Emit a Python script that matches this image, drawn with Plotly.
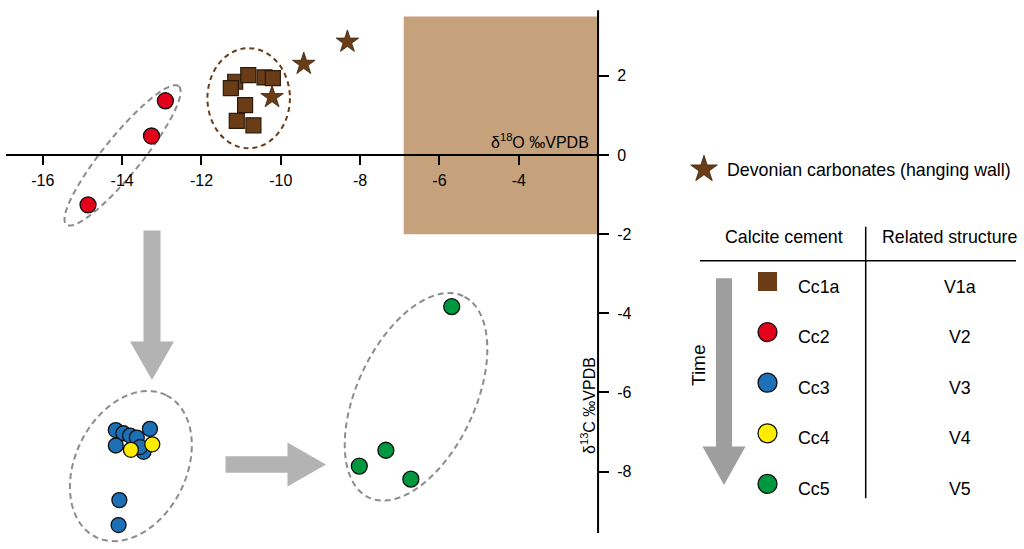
import math
import plotly.graph_objects as go

W, H = 1024, 549

# ---------------- data ----------------
cc1a_x = [-11.15, -10.82, -10.41, -10.20, -11.26, -10.90, -11.11, -10.69]
cc1a_y = [1.85, 2.02, 1.96, 1.94, 1.69, 1.26, 0.86, 0.75]

cc2_x = [-12.91, -13.26, -14.86]
cc2_y = [1.37, 0.48, -1.26]

cc3_x = [-14.16, -13.97, -13.80, -13.63, -13.30, -14.16, -13.46, -13.55, -14.07, -14.09]
cc3_y = [-6.95, -7.03, -7.09, -7.14, -6.92, -7.34, -7.50, -7.38, -8.72, -9.35]

cc4_x = [-13.78, -13.24]
cc4_y = [-7.45, -7.31]

cc5_x = [-5.69, -7.35, -8.02, -6.72]
cc5_y = [-3.83, -7.46, -7.86, -8.19]

dev_x = [-8.32, -9.42, -10.22]
dev_y = [2.86, 2.30, 1.46]

x_tickvals = [-16, -14, -12, -10, -8, -6, -4]
x_ticktext = ["-16", "-14", "-12", "-10", "-8", "-6", "-4"]
y_tickvals = [2, 0, -2, -4, -6, -8]
y_ticktext = ["2", "0", "-2", "-4", "-6", "-8"]

legend_cements = ["Cc1a", "Cc2", "Cc3", "Cc4", "Cc5"]
legend_structures = ["V1a", "V2", "V3", "V4", "V5"]

# field of Devonian marine carbonates
field_x = [-6.9, -2.0]
field_y = [-2.0, 3.5]

# ---------------- styles ----------------
FONT = "Liberation Sans, Arial, sans-serif"
BROWN = "#6B3D16"
RED = "#E2001A"
BLUE = "#1D6FB6"
YELLOW = "#FFED00"
GREEN = "#00983F"
FIELD = "#C5A27C"
ARROW = "#B3B3B3"
ARROW_DARK = "#9E9E9E"
ELL_GREY = "#8C8C8C"

X_RANGE = [-17.08, 8.74]
Y_RANGE = [-9.955, 3.916]
X_CROSS = -2.0   # where the vertical axis crosses
Y_CROSS = 0.0    # where the horizontal axis crosses
X_LINE_END = -16.93
Y_LINE = [-9.55, 3.66]


def px(p):
    return p / W


def py(p):
    return 1 - p / H


def ellipse_path(cx, cy, a, b, ang, n=90):
    t = math.radians(ang)
    pts = []
    for i in range(n):
        s = 2 * math.pi * i / n
        ex, ey = a * math.cos(s), b * math.sin(s)
        pts.append((cx + ex * math.cos(t) - ey * math.sin(t),
                    cy + ex * math.sin(t) + ey * math.cos(t)))
    return "M " + " L ".join(f"{x:.4f},{y:.4f}" for x, y in pts) + " Z"


def arrow_path(x0, y0, x1, y1, sw, hw, hl):
    # pixel geometry -> paper path
    dx, dy = x1 - x0, y1 - y0
    L = math.hypot(dx, dy)
    ux, uy = dx / L, dy / L
    nx, ny = -uy, ux
    bx, by = x1 - ux * hl, y1 - uy * hl
    pts = [
        (x0 + nx * sw / 2, y0 + ny * sw / 2),
        (bx + nx * sw / 2, by + ny * sw / 2),
        (bx + nx * hw / 2, by + ny * hw / 2),
        (x1, y1),
        (bx - nx * hw / 2, by - ny * hw / 2),
        (bx - nx * sw / 2, by - ny * sw / 2),
        (x0 - nx * sw / 2, y0 - ny * sw / 2),
    ]
    return "M " + " L ".join(f"{px(x):.5f},{py(y):.5f}" for x, y in pts) + " Z"


fig = go.Figure()

mk_line = dict(color="#111111", width=1.3)
fig.add_trace(go.Scatter(x=cc1a_x, y=cc1a_y, mode="markers",
                         marker=dict(symbol="square", size=15, color=BROWN,
                                     line=dict(color="#2A1A0A", width=1.2))))
fig.add_trace(go.Scatter(x=dev_x, y=dev_y, mode="markers",
                         marker=dict(symbol="star", size=17, color=BROWN,
                                     line=dict(color="#3A220C", width=0.8))))
fig.add_trace(go.Scatter(x=cc2_x, y=cc2_y, mode="markers",
                         marker=dict(symbol="circle", size=16, color=RED, line=mk_line)))
fig.add_trace(go.Scatter(x=cc3_x, y=cc3_y, mode="markers",
                         marker=dict(symbol="circle", size=15, color=BLUE, line=mk_line)))
fig.add_trace(go.Scatter(x=cc4_x, y=cc4_y, mode="markers",
                         marker=dict(symbol="circle", size=15, color=YELLOW, line=mk_line)))
fig.add_trace(go.Scatter(x=cc5_x, y=cc5_y, mode="markers",
                         marker=dict(symbol="circle", size=16, color=GREEN, line=mk_line)))

# ---------------- legend (on a hidden overlay axis, rows as units) ----------------
ROW0_PX, ROW_STEP = 281.5, 50.6
row_top = -ROW0_PX / ROW_STEP
row_bot = (H - ROW0_PX) / ROW_STEP
leg_rows = list(range(len(legend_cements)))
leg_colors = [BROWN, RED, BLUE, YELLOW, GREEN]
leg_symbols = ["square", "circle", "circle", "circle", "circle"]
LEG_MARK_X = px(767.5)
fig.add_trace(go.Scatter(x=[LEG_MARK_X] * len(leg_rows), y=leg_rows, mode="markers",
                         xaxis="x2", yaxis="y2",
                         marker=dict(symbol=leg_symbols, size=19, color=leg_colors,
                                     line=dict(color=["rgba(0,0,0,0)"] + ["#111111"] * 4,
                                               width=1.3))))
STAR_ROW = (169.3 - ROW0_PX) / ROW_STEP
fig.add_trace(go.Scatter(x=[px(704)], y=[STAR_ROW], mode="markers",
                         xaxis="x2", yaxis="y2",
                         marker=dict(symbol="star", size=20, color=BROWN,
                                     line=dict(color="#3A220C", width=0.8))))

shapes = []
# field rectangle
shapes.append(dict(type="rect", xref="x", yref="y", x0=field_x[0], x1=field_x[1],
                   y0=field_y[0], y1=field_y[1], fillcolor=FIELD,
                   line=dict(width=0), layer="below"))
# grey dashed ellipses
for cx, cy, a, b, ang in [(-13.99, -0.01, 2.25, 0.48, 51),
                          (-13.78, -7.86, 2.00, 1.40, 63.6),
                          (-6.59, -6.11, 2.81, 1.49, 65)]:
    shapes.append(dict(type="path", xref="x", yref="y", path=ellipse_path(cx, cy, a, b, ang),
                       line=dict(color=ELL_GREY, width=2, dash="6px,4px"), layer="below"))
# brown dashed ellipse
shapes.append(dict(type="circle", xref="x", yref="y", x0=-11.85, x1=-9.77, y0=0.17, y1=2.70,
                   line=dict(color=BROWN, width=2, dash="5px,4px"), layer="below"))
# axis lines
shapes.append(dict(type="line", xref="x", yref="y", x0=X_LINE_END, x1=X_CROSS,
                   y0=Y_CROSS, y1=Y_CROSS, line=dict(color="black", width=2)))
shapes.append(dict(type="line", xref="x", yref="y", x0=X_CROSS, x1=X_CROSS,
                   y0=Y_LINE[0], y1=Y_LINE[1], line=dict(color="black", width=2)))
# grey arrows
shapes.append(dict(type="path", xref="paper", yref="paper",
                   path=arrow_path(152, 230.5, 152, 380, 17, 44, 38.5),
                   fillcolor=ARROW, line=dict(width=0)))
shapes.append(dict(type="path", xref="paper", yref="paper",
                   path=arrow_path(225.5, 464.5, 326, 464.5, 16.7, 44, 38.5),
                   fillcolor=ARROW, line=dict(width=0)))
shapes.append(dict(type="path", xref="paper", yref="paper",
                   path=arrow_path(724, 278.3, 724, 485, 16, 43, 38.5),
                   fillcolor=ARROW_DARK, line=dict(width=0)))
# legend table lines
shapes.append(dict(type="line", xref="paper", yref="paper", x0=px(700), x1=px(1016),
                   y0=py(260.7), y1=py(260.7), line=dict(color="black", width=1.5)))
shapes.append(dict(type="line", xref="paper", yref="paper", x0=px(865.7), x1=px(865.7),
                   y0=py(226.7), y1=py(498.3), line=dict(color="black", width=1.5)))

ann = []
tfont = dict(family=FONT, size=16, color="black")
lfont = dict(family=FONT, size=17.8, color="black")
ann.append(dict(text="δ<sup>18</sup>O ‰VPDB", xref="paper", yref="paper",
                x=px(591), y=py(141), xanchor="right", yanchor="middle",
                showarrow=False, font=tfont))
ann.append(dict(text="δ<sup>13</sup>C ‰VPDB", xref="paper", yref="paper",
                x=px(588), y=py(406), xanchor="center", yanchor="middle", textangle=-90,
                showarrow=False, font=tfont))
ann.append(dict(text="Devonian carbonates (hanging wall)", xref="paper", yref="paper",
                x=px(725), y=py(170), xanchor="left", yanchor="middle",
                showarrow=False, font=lfont))
ann.append(dict(text="Calcite cement", xref="paper", yref="paper",
                x=px(783.5), y=py(237), xanchor="center", yanchor="middle",
                showarrow=False, font=lfont))
ann.append(dict(text="Related structure", xref="paper", yref="paper",
                x=px(949.5), y=py(237), xanchor="center", yanchor="middle",
                showarrow=False, font=lfont))
ann.append(dict(text="Time", xref="paper", yref="paper",
                x=px(698), y=py(365), xanchor="center", yanchor="middle", textangle=-90,
                showarrow=False, font=dict(family=FONT, size=19, color="black")))
for r, c, s in zip(leg_rows, legend_cements, legend_structures):
    ann.append(dict(text=c, xref="paper", yref="y2", x=px(795.5), y=r + 0.1,
                    xanchor="left", yanchor="middle", showarrow=False, font=lfont))
    ann.append(dict(text=s, xref="paper", yref="y2", x=px(959.5), y=r + 0.1,
                    xanchor="center", yanchor="middle", showarrow=False, font=lfont))

ypos = (Y_CROSS - Y_RANGE[0]) / (Y_RANGE[1] - Y_RANGE[0])
xpos = (X_CROSS - X_RANGE[0]) / (X_RANGE[1] - X_RANGE[0])

fig.update_layout(
    width=W, height=H, autosize=False,
    margin=dict(l=0, r=0, t=0, b=0, pad=0),
    paper_bgcolor="white", plot_bgcolor="rgba(0,0,0,0)",
    showlegend=False,
    xaxis=dict(range=X_RANGE, domain=[0, 1], anchor="free", position=ypos,
               showline=False, zeroline=False, showgrid=False,
               tickmode="array", tickvals=x_tickvals, ticktext=x_ticktext,
               ticks="outside", ticklen=9, tickwidth=2, tickcolor="black",
               ticklabelstandoff=2, tickfont=tfont, fixedrange=True),
    yaxis=dict(range=Y_RANGE, domain=[0, 1], anchor="free", position=xpos, side="right",
               showline=False, zeroline=False, showgrid=False,
               tickmode="array", tickvals=y_tickvals, ticktext=y_ticktext,
               ticks="outside", ticklen=10, tickwidth=2, tickcolor="black",
               ticklabelstandoff=5, tickfont=tfont, fixedrange=True),
    xaxis2=dict(range=[0, 1], overlaying="x", anchor="y2", visible=False, fixedrange=True),
    yaxis2=dict(range=[row_bot, row_top], overlaying="y", anchor="x2", visible=False,
                fixedrange=True),
    shapes=shapes,
    annotations=ann,
)

fig.write_html("out.html", config={"displayModeBar": False},
               post_script="document.body.style.margin='0';document.body.style.padding='0';"
                           "document.body.style.overflow='hidden';")
